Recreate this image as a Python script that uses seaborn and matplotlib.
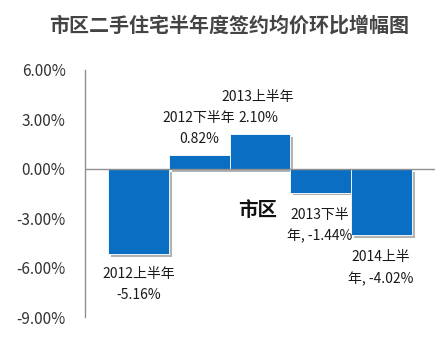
import matplotlib
matplotlib.use("Agg")
import matplotlib.pyplot as plt
import matplotlib.patheffects as pe
import seaborn as sns
import pandas as pd

categories = ["2012上半年", "2012下半年", "2013上半年", "2013下半年", "2014上半年"]
values = [-5.16, 0.82, 2.10, -1.44, -4.02]
label_texts = ["2012上半年\n-5.16%", "2012下半年\n0.82%", "2013上半年\n2.10%",
               "2013下半\n年, -1.44%", "2014上半\n年, -4.02%"]
yticks = [6, 3, 0, -3, -6, -9]

sns.set_theme(style="white")
plt.rcParams['font.family'] = ['Noto Sans CJK SC', 'DejaVu Sans']

df = pd.DataFrame({"cat": categories, "val": values})

fig = plt.figure(figsize=(4.38, 3.40), dpi=100)
ax = fig.add_axes([85/438, 1-317/340, 350/438, 247/340])

sns.barplot(data=df, x="cat", y="val", color="#0A6FC2", saturation=1, width=1.0,
            ax=ax, edgecolor="white", linewidth=0.6)
for p in ax.patches:
    p.set_path_effects([pe.withSimplePatchShadow(offset=(2, -2), shadow_rgbFace="#808080", alpha=0.6), pe.Normal()])

ax.set_xlim(-0.877, 4.877)
ax.set_ylim(-9, 6)
ax.set_yticks(yticks)
ax.set_yticklabels([f"{t:.2f}%" for t in yticks], fontsize=11, color="#333333")
ax.tick_params(axis='y', length=0, pad=14)
ax.set_xticks([])
ax.set_xlabel("")
ax.set_ylabel("")
for s in ["top", "right", "bottom"]:
    ax.spines[s].set_visible(False)
ax.spines["left"].set_color("#909090")
ax.spines["left"].set_linewidth(1)
ax.axhline(0, color="#909090", linewidth=1)

offsets = [(0, -31), (0, 27), (-2, 26.5), (-1, -33), (-1, -33)]
for i, (v, txt, off) in enumerate(zip(values, label_texts, offsets)):
    ax.annotate(txt, xy=(i, v), xytext=off, textcoords="offset pixels",
                ha="center", va="center", fontsize=10, color="#1a1a1a",
                linespacing=1.65)

ax.text(1.96, -2.55, "市区", fontsize=14, fontweight="bold", color="#111111",
        ha="center", va="center")

fig.text(229/438, 1-25/340, "市区二手住宅半年度签约均价环比增幅图", fontsize=14.4,
         fontweight="bold", color="#444444", ha="center", va="center")

fig.savefig("out.png", dpi=100)
